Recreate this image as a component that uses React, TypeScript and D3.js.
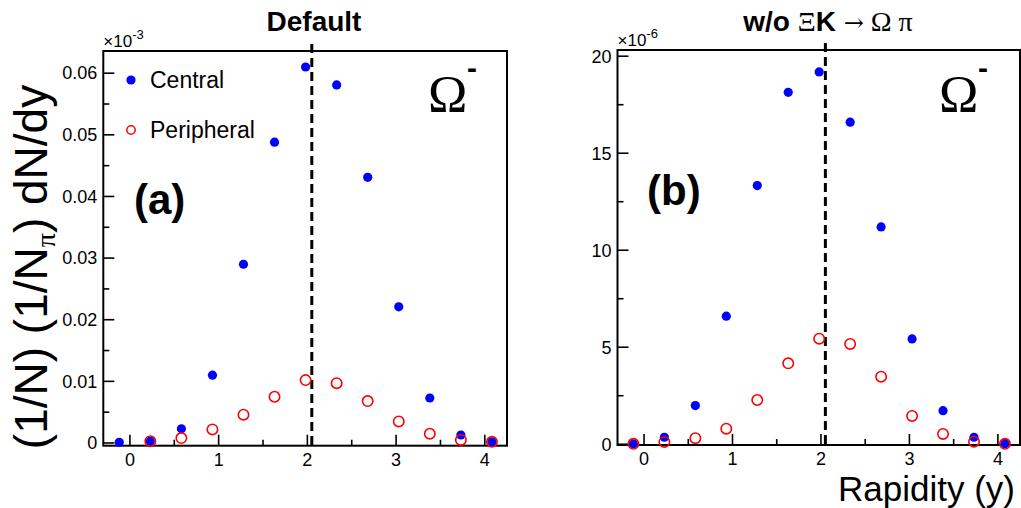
import React from "react";
import * as d3 from "d3";

const rapidity = [-0.12, 0.23, 0.58, 0.93, 1.28, 1.63, 1.98, 2.33, 2.68, 3.03, 3.38, 3.73, 4.08];
const defaultCentral = [0.0001, 0.0003, 0.0023, 0.011, 0.029, 0.0488, 0.061, 0.0581, 0.0431, 0.0221, 0.0073, 0.0013, 0.0002];
const defaultPeripheral: (number | null)[] = [null, 0.0003, 0.0008, 0.0022, 0.0046, 0.0075, 0.0102, 0.0097, 0.0068, 0.0035, 0.0015, 0.0005, 0.0002];
const woCentral = [0.02, 0.36, 1.99, 6.6, 13.33, 18.14, 19.19, 16.6, 11.2, 5.43, 1.73, 0.36, 0.03];
const woPeripheral: (number | null)[] = [0.02, 0.12, 0.31, 0.8, 2.28, 4.17, 5.44, 5.17, 3.48, 1.46, 0.53, 0.13, 0.02];

const xMajorTicks = [0, 1, 2, 3, 4];
const xMinorTicks = [0.5, 1.5, 2.5, 3.5];
const leftYTicks = [0, 0.01, 0.02, 0.03, 0.04, 0.05, 0.06];
const leftYTickLabels = ["0", "0.01", "0.02", "0.03", "0.04", "0.05", "0.06"];
const leftYMinor = [0.005, 0.015, 0.025, 0.035, 0.045, 0.055];
const rightYTicks = [0, 5, 10, 15, 20];
const rightYTickLabels = ["0", "5", "10", "15", "20"];
const rightYMinor = [2.5, 7.5, 12.5, 17.5];
const dashedX = 2.05;
const legendLabels = ["Central", "Peripheral"];

const SANS = "'Liberation Sans', Arial, Helvetica, sans-serif";
const SERIF = "'Liberation Serif', 'Times New Roman', serif";

type PanelProps = {
  x0: number;
  x1: number;
  y0: number;
  y1: number;
  yDomain: [number, number];
  central: (number | null)[];
  peripheral: (number | null)[];
  yTicks: number[];
  yTickLabels: string[];
  yMinor: number[];
  exponent: string;
  tag: string;
  tagPos: [number, number];
  omegaX: number;
  legend: boolean;
};

function Panel(p: PanelProps) {
  const x = d3.scaleLinear().domain([-0.3, 4.25]).range([p.x0, p.x1]);
  const y = d3.scaleLinear().domain(p.yDomain).range([p.y1, p.y0]);
  const dash = x(dashedX);
  return (
    <g>
      <rect x={p.x0} y={p.y0} width={p.x1 - p.x0} height={p.y1 - p.y0} fill="none" stroke="#000" strokeWidth={2} />
      {xMajorTicks.map((t) => (
        <g key={"xm" + t}>
          <line x1={x(t)} x2={x(t)} y1={p.y1} y2={p.y1 - 11} stroke="#000" strokeWidth={1.6} />
          <text x={x(t)} y={p.y1 + 20} textAnchor="middle" fontFamily={SANS} fontSize={18}>{t}</text>
        </g>
      ))}
      {xMinorTicks.map((t) => (
        <line key={"xn" + t} x1={x(t)} x2={x(t)} y1={p.y1} y2={p.y1 - 6} stroke="#000" strokeWidth={1.6} />
      ))}
      {p.yTicks.map((t, i) => (
        <g key={"ym" + t}>
          <line x1={p.x0} x2={p.x0 + 11} y1={y(t)} y2={y(t)} stroke="#000" strokeWidth={1.6} />
          <text x={p.x0 - 6} y={y(t)} dy="0.35em" textAnchor="end" fontFamily={SANS} fontSize={18}>{p.yTickLabels[i]}</text>
        </g>
      ))}
      {p.yMinor.map((t) => (
        <line key={"yn" + t} x1={p.x0} x2={p.x0 + 6} y1={y(t)} y2={y(t)} stroke="#000" strokeWidth={1.6} />
      ))}
      <text x={p.x0} y={p.y0 - 4} fontFamily={SANS} fontSize={17}>
        ×10<tspan dy={-8} fontSize={13}>{p.exponent}</tspan>
      </text>
      <line x1={dash} x2={dash} y1={p.y0 - 7} y2={p.y1} stroke="#000" strokeWidth={3} strokeDasharray="9,5" />
      {p.central.map((v, i) =>
        v === null ? null : <circle key={"c" + i} cx={x(rapidity[i])} cy={y(v)} r={4.6} fill="#0000ff" />
      )}
      {p.peripheral.map((v, i) =>
        v === null ? null : (
          <circle key={"p" + i} cx={x(rapidity[i])} cy={y(v)} r={5.2} fill="none" stroke="#ff0000" strokeWidth={1.6} />
        )
      )}
      {p.legend && (
        <g>
          <circle cx={131} cy={80} r={4.6} fill="#0000ff" />
          <text x={150} y={80} dy="0.36em" fontFamily={SANS} fontSize={23}>{legendLabels[0]}</text>
          <circle cx={131} cy={130} r={4.2} fill="none" stroke="#ff0000" strokeWidth={1.5} />
          <text x={150} y={130} dy="0.36em" fontFamily={SANS} fontSize={23}>{legendLabels[1]}</text>
        </g>
      )}
      <text x={p.tagPos[0]} y={p.tagPos[1]} fontFamily={SANS} fontWeight="bold" fontSize={42}>{p.tag}</text>
      <text x={p.omegaX} y={112} fontFamily={SERIF} fontSize={53}>Ω</text>
      <text x={p.omegaX + 39} y={78} fontFamily={SANS} fontWeight="bold" fontSize={30}>-</text>
    </g>
  );
}

export default function App() {
  return (
    <svg width={1021} height={508} style={{ position: "absolute", left: 0, top: 0, background: "#fff" }}>
      <rect x={0} y={0} width={1021} height={508} fill="#fff" />
      <text x={314} y={31} textAnchor="middle" fontFamily={SANS} fontWeight="bold" fontSize={28}>Default</text>
      <text x={828} y={31} textAnchor="middle" fontSize={28}>
        <tspan fontFamily={SANS} fontWeight="bold">w/o </tspan>
        <tspan fontFamily={SERIF}>Ξ</tspan>
        <tspan fontFamily={SANS} fontWeight="bold">K </tspan>
        <tspan fontFamily="'DejaVu Serif', serif" fontSize={24}>→</tspan>
        <tspan fontFamily={SERIF}> Ω π</tspan>
      </text>
      <Panel
        x0={103.3}
        x1={507}
        y0={51}
        y1={445.7}
        yDomain={[-0.00044, 0.0636]}
        central={defaultCentral}
        peripheral={defaultPeripheral}
        yTicks={leftYTicks}
        yTickLabels={leftYTickLabels}
        yMinor={leftYMinor}
        exponent="-3"
        tag="(a)"
        tagPos={[134, 214]}
        omegaX={428}
        legend={true}
      />
      <Panel
        x0={617.5}
        x1={1020}
        y0={50}
        y1={445}
        yDomain={[-0.04, 20.32]}
        central={woCentral}
        peripheral={woPeripheral}
        yTicks={rightYTicks}
        yTickLabels={rightYTickLabels}
        yMinor={rightYMinor}
        exponent="-6"
        tag="(b)"
        tagPos={[647, 205]}
        omegaX={939}
        legend={false}
      />
      <text transform="translate(47,267) rotate(-90)" textAnchor="middle" fontFamily={SANS} fontSize={46}>
        (1/N) (1/N<tspan dy={8} fontFamily={SERIF} fontSize={28}>π</tspan><tspan dy={-8}>) dN/dy</tspan>
      </text>
      <text x={1015} y={501} textAnchor="end" fontFamily={SANS} fontSize={35}>Rapidity (y)</text>
    </svg>
  );
}
